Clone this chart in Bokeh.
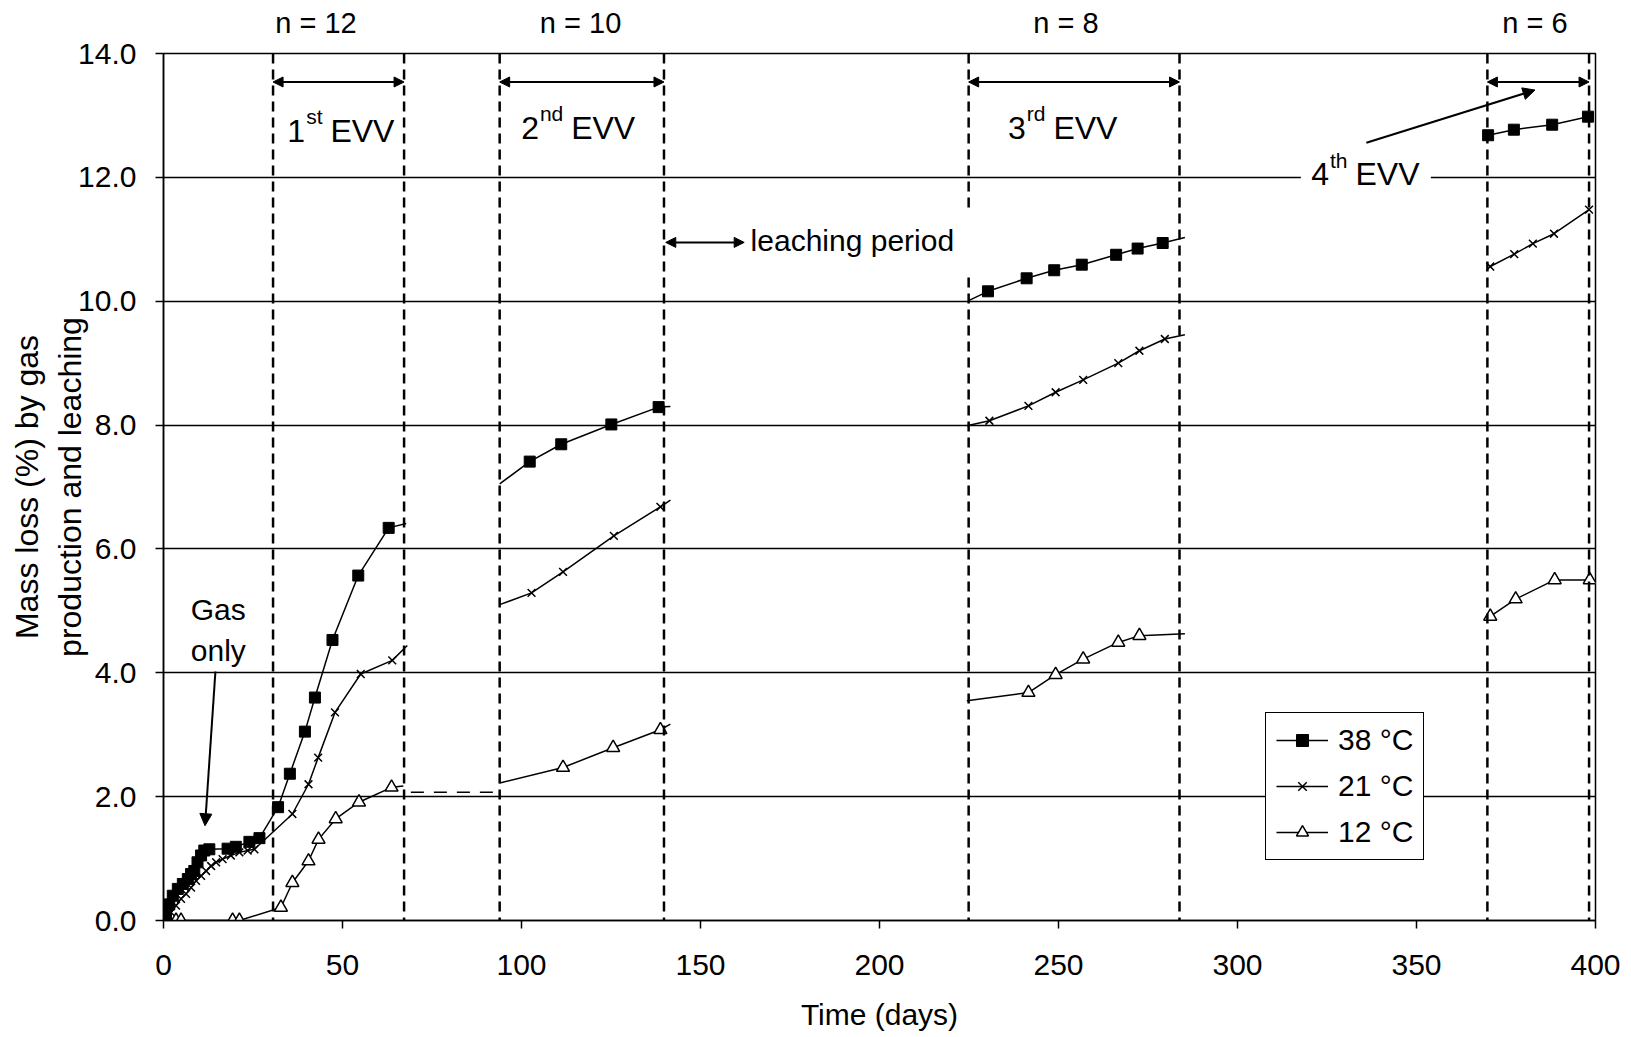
from bokeh.plotting import figure
from bokeh.models import (Range1d, FixedTicker, NumeralTickFormatter, Span, Label, LinearAxis,
                          Arrow, NormalHead, Legend, LegendItem, BoxAnnotation)
from bokeh.embed import file_html
from bokeh.resources import INLINE

FONT = "Liberation Sans"

# ---------------- data ----------------
x_ticks = [0, 50, 100, 150, 200, 250, 300, 350, 400]
y_ticks = [0, 2, 4, 6, 8, 10, 12, 14]

evv_start = [30.6, 93.9, 224.9, 369.8]
evv_end = [67.2, 139.8, 283.8, 398.2]
evv_n = ["n = 12", "n = 10", "n = 8", "n = 6"]
evv_num = ["1", "2", "3", "4"]
evv_sup = ["st", "nd", "rd", "th"]

series_labels = ["38 °C", "21 °C", "12 °C"]

# 38 °C
day38 = [
    [0, 0.7, 1.6, 2.6, 4.0, 5.4, 6.8, 7.7, 8.6, 9.5, 10.5, 11.4, 12.8, 17.9, 20.2, 24.0, 26.8,
     32.0, 35.3, 39.5, 42.3, 47.2, 54.4, 62.9],
    [102.3, 111.1, 125.1, 138.3],
    [230.3, 241.1, 248.8, 256.5, 266.1, 272.1, 279.1],
    [370.0, 377.2, 387.9, 397.9],
]
loss38 = [
    [0, 0.10, 0.26, 0.40, 0.51, 0.59, 0.67, 0.75, 0.80, 0.94, 1.05, 1.13, 1.15, 1.16, 1.19, 1.27, 1.33,
     1.83, 2.37, 3.05, 3.60, 4.53, 5.57, 6.34],
    [7.41, 7.69, 8.01, 8.29],
    [10.16, 10.37, 10.50, 10.59, 10.75, 10.85, 10.94],
    [12.68, 12.77, 12.85, 12.98],
]
start38 = [None, (93.9, 7.05), (224.9, 10.01), None]
end38 = [(67.8, 6.41), (141.6, 8.30), (285.3, 11.03), None]

# 21 °C
day21 = [
    [0, 2.1, 3.5, 4.9, 6.3, 7.7, 9.1, 10.5, 11.9, 13.3, 14.7, 16.5, 18.8, 21.2, 23.5, 25.4,
     36.0, 40.5, 43.2, 47.9, 55.1, 63.9],
    [102.8, 111.6, 125.8, 138.8],
    [230.7, 241.6, 249.2, 256.9, 266.7, 272.6, 279.7],
    [370.6, 377.3, 382.5, 388.4, 398.2],
]
loss21 = [
    [0, 0.13, 0.24, 0.35, 0.43, 0.53, 0.64, 0.72, 0.80, 0.88, 0.94, 0.99, 1.05, 1.10, 1.13, 1.15,
     1.72, 2.20, 2.63, 3.36, 3.98, 4.20],
    [5.29, 5.63, 6.21, 6.68],
    [8.07, 8.31, 8.53, 8.73, 9.00, 9.20, 9.39],
    [10.56, 10.76, 10.93, 11.09, 11.48],
]
start21 = [None, (93.9, 5.10), (224.4, 7.99), None]
end21 = [(68.1, 4.44), (141.6, 6.79), (285.3, 9.46), None]

# 12 °C
day12 = [
    [3.5, 4.9, 19.3, 21.2, 32.8, 36.0, 40.5, 43.3, 48.1, 54.6, 63.7],
    [111.6, 125.6, 138.8],
    [241.6, 249.2, 256.9, 266.7, 272.6],
    [370.6, 377.7, 388.6, 398.4],
]
loss12 = [
    [0, 0, 0, 0, 0.21, 0.61, 0.96, 1.31, 1.64, 1.91, 2.15],
    [2.47, 2.79, 3.08],
    [3.68, 3.97, 4.22, 4.49, 4.60],
    [4.91, 5.19, 5.50, 5.50],
]
start12 = [None, (93.9, 2.22), (224.4, 3.55), (369.1, 4.85)]
end12 = [(67.0, 2.17), (141.6, 3.17), (285.3, 4.63), None]

# 12 °C bridge over the first leaching period (dashed)
bridge12_day = [69.1, 93.3]
bridge12_loss = [2.07, 2.07]

# ---------------- figure ----------------
p = figure(width=1631, height=1037, x_range=Range1d(0, 400), y_range=Range1d(0, 14),
           output_backend="svg", toolbar_location=None,
           min_border_left=163, min_border_right=36, min_border_top=53, min_border_bottom=117)
p.background_fill_color = "white"
p.border_fill_color = "white"
p.outline_line_color = "black"
p.outline_line_width = 1.5

p.xgrid.visible = False
p.ygrid.ticker = FixedTicker(ticks=y_ticks)
p.ygrid.grid_line_color = "black"
p.ygrid.grid_line_width = 1.5
p.ygrid.grid_line_alpha = 1.0

for ax in (p.xaxis[0], p.yaxis[0]):
    ax.axis_line_color = "black"
    ax.axis_line_width = 1.5
    ax.major_tick_line_color = "black"
    ax.major_tick_line_width = 1.5
    ax.major_tick_out = 8
    ax.major_tick_in = 0
    ax.minor_tick_line_color = None
    ax.major_label_text_font = FONT
    ax.major_label_text_font_size = "30px"
    ax.major_label_text_color = "black"
    ax.axis_label_text_font = FONT
    ax.axis_label_text_font_style = "normal"
    ax.axis_label_text_color = "black"

p.xaxis.ticker = FixedTicker(ticks=x_ticks)
p.xaxis.major_label_standoff = 26
p.xaxis.axis_label = "Time (days)"
p.xaxis.axis_label_text_font_size = "30px"
p.xaxis.axis_label_standoff = 20

p.yaxis.ticker = FixedTicker(ticks=y_ticks)
p.yaxis.formatter = NumeralTickFormatter(format="0.0")
p.yaxis.major_label_standoff = 19
p.yaxis.axis_label = "Mass loss (%) by gas\nproduction and leaching"
p.yaxis.axis_label_text_font_size = "32px"
p.yaxis.axis_label_standoff = -13

# sample counts above the periods
n_label_day = [42.6, 116.5, 252.1, 383.1]
top_axis = LinearAxis(ticker=FixedTicker(ticks=n_label_day),
                      major_label_overrides={d: t for d, t in zip(n_label_day, evv_n)},
                      axis_line_color=None, major_tick_line_color=None, minor_tick_line_color=None,
                      major_tick_out=0, major_tick_in=0, major_label_standoff=15,
                      major_label_text_font=FONT, major_label_text_font_size="29px",
                      major_label_text_color="black")
p.add_layout(top_axis, "above")

# vertical dashed period boundaries
for xv in evv_start + evv_end:
    p.add_layout(Span(location=xv, dimension="height", line_color="black",
                      line_width=2.5, line_dash="10 6"))

# white backgrounds behind two texts (break the grid / dashed line)
p.add_layout(BoxAnnotation(left=317.7, right=354.0, bottom=11.8, top=12.2,
                           fill_color="white", fill_alpha=1, line_color=None))
p.add_layout(BoxAnnotation(left=163.0, right=227.5, bottom=10.45, top=11.45,
                           fill_color="white", fill_alpha=1, line_color=None))

styles = [
    dict(marker="square", size=11, fill_color="black", line_color="black", line_width=1),
    dict(marker="x", size=11, fill_color=None, line_color="black", line_width=1.5),
    dict(marker="triangle", size=13, fill_color="white", line_color="black", line_width=1.5),
]

legend_items = []
all_series = [(day38, loss38, start38, end38), (day21, loss21, start21, end21),
              (day12, loss12, start12, end12)]
for si, (days, losses, starts, ends) in enumerate(all_series):
    first = []
    for k in range(4):
        xs = ([starts[k][0]] if starts[k] else []) + days[k] + ([ends[k][0]] if ends[k] else [])
        ys = ([starts[k][1]] if starts[k] else []) + losses[k] + ([ends[k][1]] if ends[k] else [])
        lr = p.line(xs, ys, line_color="black", line_width=1.5)
        sr = p.scatter(days[k], losses[k], **styles[si])
        if k == 0:
            first = [lr, sr]
    legend_items.append(LegendItem(label=series_labels[si], renderers=first))

p.line(bridge12_day, bridge12_loss, line_color="black", line_width=1.5, line_dash="13 10")

legend = Legend(items=legend_items, location=(1102, 60), orientation="vertical",
                label_text_font=FONT, label_text_font_size="30px", label_text_color="black",
                border_line_color="black", border_line_width=1.5, border_line_alpha=1,
                background_fill_color="white", background_fill_alpha=1,
                glyph_width=52, glyph_height=30, label_height=34, label_standoff=10,
                spacing=12, padding=10, margin=0)
p.add_layout(legend)

# ---------------- annotations ----------------
def head():
    return NormalHead(size=10, fill_color="black", line_color="black", line_width=1)

for s, e in zip(evv_start, evv_end):
    p.add_layout(Arrow(x_start=s, y_start=13.54, x_end=e, y_end=13.54, start=head(), end=head(),
                       line_color="black", line_width=2))

CW = {"s": 0.5, "t": 0.278, "n": 0.556, "d": 0.556, "r": 0.333, "h": 0.556}
evv_left = [34.6, 99.9, 235.9, 320.6]
evv_base = [12.75, 12.80, 12.80, 12.05]
MAIN, SUP = 32, 21
for k in range(4):
    w_num = 0.556 * MAIN
    w_sup = sum(CW[c] for c in evv_sup[k]) * SUP
    gap = 0.278 * MAIN
    p.add_layout(Label(x=evv_left[k], y=evv_base[k], text=evv_num[k], text_align="left",
                       text_baseline="alphabetic", text_font=FONT, text_font_size=f"{MAIN}px",
                       text_color="black"))
    p.add_layout(Label(x=evv_left[k], y=evv_base[k], x_offset=w_num + 1, y_offset=14,
                       text=evv_sup[k], text_align="left", text_baseline="alphabetic",
                       text_font=FONT, text_font_size=f"{SUP}px", text_color="black"))
    p.add_layout(Label(x=evv_left[k], y=evv_base[k], x_offset=w_num + w_sup + gap, text="EVV",
                       text_align="left", text_baseline="alphabetic", text_font=FONT,
                       text_font_size=f"{MAIN}px", text_color="black"))

# 4th EVV pointer
p.add_layout(Arrow(x_start=336.0, y_start=12.56, x_end=383.1, y_end=13.41,
                   end=NormalHead(size=12, fill_color="black", line_color="black"),
                   line_color="black", line_width=2))

# leaching period
p.add_layout(Arrow(x_start=140.3, y_start=10.95, x_end=162.2, y_end=10.95, start=head(), end=head(),
                   line_color="black", line_width=2))
p.add_layout(Label(x=164.0, y=10.98, text="leaching period", text_align="left",
                   text_baseline="alphabetic", text_font=FONT, text_font_size="30px",
                   text_color="black"))

# Gas only
p.add_layout(Label(x=15.3, y=5.02, text="Gas", text_align="center", text_baseline="alphabetic",
                   text_font=FONT, text_font_size="30px", text_color="black"))
p.add_layout(Label(x=15.3, y=4.36, text="only", text_align="center", text_baseline="alphabetic",
                   text_font=FONT, text_font_size="30px", text_color="black"))
p.add_layout(Arrow(x_start=14.5, y_start=4.02, x_end=11.6, y_end=1.53,
                   end=NormalHead(size=12, fill_color="black", line_color="black"),
                   line_color="black", line_width=2))

open("out.html", "w").write(file_html(p, INLINE))
